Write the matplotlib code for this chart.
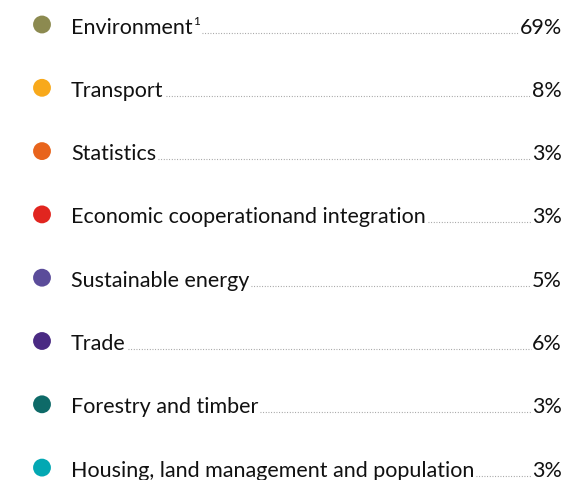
import matplotlib
matplotlib.use('Agg')
import matplotlib.pyplot as plt

# Data
categories = ['Environment', 'Transport', 'Statistics',
              'Economic cooperationand integration', 'Sustainable energy',
              'Trade', 'Forestry and timber',
              'Housing, land management and population']
shares = [69, 8, 3, 3, 5, 6, 3, 3]
footnotes = ['1', '', '', '', '', '', '', '']

# Style
colors = ['#8c8a50', '#f8a91b', '#e8641c', '#e1251f', '#5b4c9a',
          '#4a2a83', '#0e6a68', '#03a8b3']
plt.rcParams['font.family'] = ['Lato', 'DejaVu Sans']
fs = 15.5

fig = plt.figure(figsize=(5.70, 4.81), dpi=100)
ax = fig.add_axes([0, 0, 1, 1])
ax.set_xlim(0, 570)
ax.set_ylim(481, 0)
ax.axis('off')

row0, step = 25.5, 63.3
ys = [row0 + i * step for i in range(len(categories))]

ax.scatter([42] * len(ys), ys, s=165, c=colors, linewidths=0, zorder=3)

fig.canvas.draw()
renderer = fig.canvas.get_renderer()
inv = ax.transData.inverted()

for y, cat, val, fn in zip(ys, categories, shares, footnotes):
    base = y + 8
    t = ax.text(71, base, cat, fontsize=fs, va='baseline', ha='left', color='#111111')
    x_end = inv.transform(t.get_window_extent(renderer).get_points())[1][0]
    if fn:
        s = ax.text(x_end + 0.3, base - 8.5, fn, fontsize=fs * 0.55, va='baseline',
                    ha='left', color='#111111')
        x_end = inv.transform(s.get_window_extent(renderer).get_points())[1][0]
    p = ax.text(562, base, f'{val}%', fontsize=fs, va='baseline', ha='right', color='#111111')
    x_start = inv.transform(p.get_window_extent(renderer).get_points())[0][0]
    ax.plot([x_end + 2, x_start - 1], [base, base], color='#9a9a9a', lw=0.8,
            linestyle=(0, (0.8, 1.6)))

fig.savefig('out.png', dpi=100)
